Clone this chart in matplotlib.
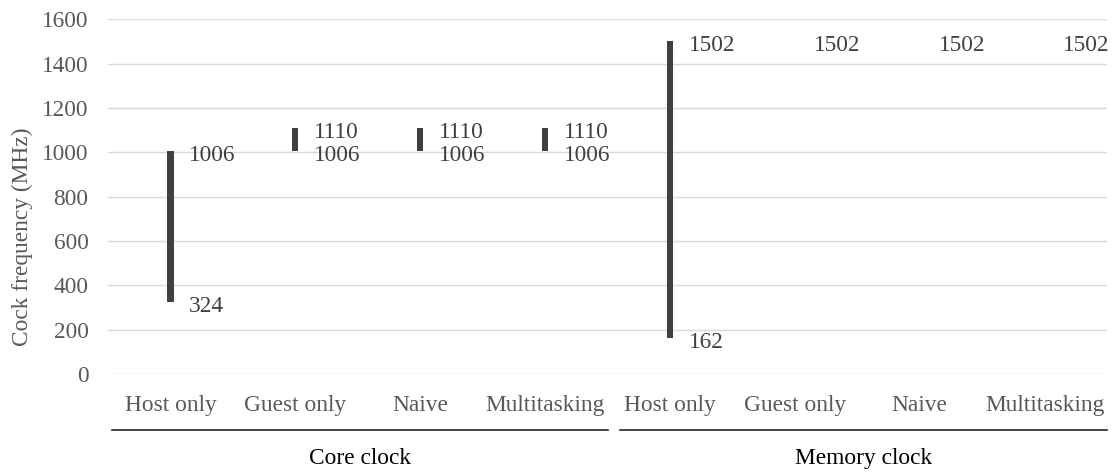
import matplotlib.pyplot as plt
from matplotlib.transforms import blended_transform_factory

# values
categories = ['Host only', 'Guest only', 'Naive', 'Multitasking',
              'Host only', 'Guest only', 'Naive', 'Multitasking']
groups = ['Core clock', 'Memory clock']
clock_max = [1006, 1110, 1110, 1110, 1502, 1502, 1502, 1502]
clock_min = [324, 1006, 1006, 1006, 162, 1502, 1502, 1502]
yticks = [0, 200, 400, 600, 800, 1000, 1200, 1400, 1600]

plt.rcParams['font.family'] = ['Liberation Serif', 'DejaVu Serif']
plt.rcParams['font.size'] = 16.8

fig = plt.figure(figsize=(11.17, 4.73), dpi=100)
ax = fig.add_axes([0.0967, 0.2093, 0.8944, 0.7499])

x = list(range(len(categories)))
heights = [hi - lo for hi, lo in zip(clock_max, clock_min)]
ax.bar(x, heights, bottom=clock_min, width=0.05, color='#404040', zorder=3)

# data labels to the right of each bar end (one label when both ends coincide)
for i in x:
    ends = [clock_max[i]] if clock_max[i] == clock_min[i] else [clock_max[i], clock_min[i]]
    for v in ends:
        ax.annotate(str(v), (i, v), xytext=(13.5, -3), textcoords='offset points',
                    ha='left', va='center', color='#404040')

ax.set_xlim(-0.5, len(categories) - 0.5)
ax.set_ylim(0, 1600)
ax.set_yticks(yticks)
ax.set_xticks(x)
ax.set_xticklabels(categories)
ax.tick_params(axis='both', length=0, colors='#595959')
ax.tick_params(axis='y', pad=14)
ax.tick_params(axis='x', pad=15)
ax.grid(axis='y', color='#d9d9d9', linewidth=1.0, zorder=0)
ax.set_axisbelow(True)
for s in ax.spines.values():
    s.set_visible(False)

fig.text(22 / 1117, 0.5, 'Cock frequency (MHz)',
         rotation=90, ha='center', va='center', color='#595959')

# group lines and labels below the category labels
tr = blended_transform_factory(ax.transData, fig.transFigure)
spans = [(-0.468, 3.5), (3.596, 7.5)]
for (a, b), name in zip(spans, groups):
    ax.plot([a, b], [0.0909, 0.0909], transform=tr, color='#262626',
            linewidth=1.2, clip_on=False)
    ax.text((a + b) / 2, 0.0317, name, transform=tr, ha='center', va='center',
            color='black')

fig.savefig('out.png', dpi=100)
